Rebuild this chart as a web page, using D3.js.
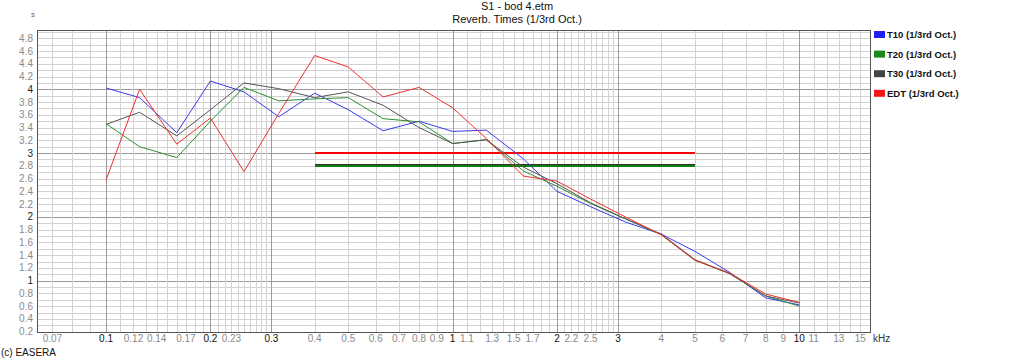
<!DOCTYPE html>
<html>
<head>
<meta charset="utf-8">
<script src="https://cdn.jsdelivr.net/npm/d3@7"></script>
<style>
  html, body { margin: 0; padding: 0; background: #fff; }
  svg { display: block; font-family: "Liberation Sans", Arial, sans-serif; }
</style>
</head>
<body>
<svg id="chart" width="1018" height="360"></svg>
<script>
// ---- data ----
const freqs = [0.1, 0.125, 0.16, 0.2, 0.25, 0.315, 0.4, 0.5, 0.63, 0.8, 1, 1.25, 1.6, 2, 2.5, 3.15, 4, 5, 6.3, 8, 10];
const t10 = [4.02, 3.87, 3.32, 4.13, 3.96, 3.57, 3.94, 3.68, 3.35, 3.50, 3.34, 3.36, 2.91, 2.40, 2.16, 1.92, 1.73, 1.46, 1.13, 0.73, 0.62];
const t20 = [3.46, 3.10, 2.93, 3.50, 4.03, 3.82, 3.85, 3.87, 3.54, 3.49, 3.15, 3.21, 2.72, 2.48, 2.21, 1.97, 1.72, 1.32, 1.11, 0.76, 0.60];
const t30 = [3.45, 3.64, 3.27, 3.68, 4.10, 4.01, 3.87, 3.96, 3.75, 3.40, 3.15, 3.21, 2.78, 2.52, 2.22, 1.97, 1.73, 1.33, 1.11, 0.76, 0.65];
const edt = [2.58, 4.00, 3.14, 3.55, 2.71, 3.62, 4.53, 4.35, 3.88, 4.03, 3.71, 3.23, 2.64, 2.56, 2.28, 2.00, 1.72, 1.32, 1.12, 0.79, 0.66];
const seriesNames = ["T10 (1/3rd Oct.)", "T20 (1/3rd Oct.)", "T30 (1/3rd Oct.)", "EDT (1/3rd Oct.)"];
// averages over 0.4 - 5 kHz (T10, T30, T20, EDT drawing order)
const avgRange = [0.4, 5];
const avgT10 = 2.80, avgT30 = 2.81, avgT20 = 2.795, avgEDT = 3.0;
const titleLines = ["S1 - bod 4.etm", "Reverb. Times (1/3rd Oct.)"];
const xTickLabels = ["0.07", "0.1", "0.12", "0.14", "0.17", "0.2", "0.23", "0.3", "0.4", "0.5", "0.6", "0.7", "0.8", "0.9", "1", "1.1", "1.3", "1.5", "1.7", "2", "2.2", "2.5", "3", "4", "5", "6", "7", "8", "9", "10", "11", "13", "15"];
const xMajorLabels = ["0.1", "0.2", "0.3", "1", "2", "3", "10"];
const yTickLabels = ["0.2","0.4","0.6","0.8","1","1.2","1.4","1.6","1.8","2","2.2","2.4","2.6","2.8","3","3.2","3.4","3.6","3.8","4","4.2","4.4","4.6","4.8"];

// ---- layout ----
const svg = d3.select("#chart");
const L = 36.5, R = 870, T = 30, B = 331.7;
const x = d3.scaleLog().domain([0.063, 16]).range([L, R]);
const y = d3.scaleLinear().domain([0.2, 4.93]).range([B, T]);

const colors = ["#1f1ff5", "#1a8a1a", "#444444", "#f01818"];
const lineColors = ["#3a3af0", "#2e8e2e", "#555555", "#ee3030"];

// grid: minor vertical
const vGrid = [];
[0.07, 0.08, 0.09].forEach(v => vGrid.push(v));
for (let i = 10; i <= 30; i++) vGrid.push(i / 100);
for (let i = 4; i <= 10; i++) vGrid.push(i / 10);
for (let i = 11; i <= 30; i++) vGrid.push(i / 10);
for (let i = 4; i <= 15; i++) vGrid.push(i);
const majorX = [0.1, 0.2, 0.3, 1, 2, 3, 10];
const isMajorX = v => majorX.some(m => Math.abs(m - v) < 1e-9);

const hGrid = [];
for (let i = 2; i <= 49; i++) hGrid.push(i / 10);
const isMajorY = v => Math.abs(v - Math.round(v)) < 1e-9;

const grid = svg.append("g").attr("shape-rendering", "crispEdges");
grid.selectAll("line.h").data(hGrid).join("line")
  .attr("x1", L).attr("x2", R)
  .attr("y1", d => Math.round(y(d)) + 0.5).attr("y2", d => Math.round(y(d)) + 0.5)
  .attr("stroke", d => isMajorY(d) ? "#9a9a9a" : "#d2d2d2").attr("stroke-width", 1);
grid.selectAll("line.v").data(vGrid).join("line")
  .attr("y1", T).attr("y2", B)
  .attr("x1", d => Math.round(x(d)) + 0.5).attr("x2", d => Math.round(x(d)) + 0.5)
  .attr("stroke", d => isMajorX(d) ? "#9a9a9a" : "#d2d2d2").attr("stroke-width", 1);

// frame
svg.append("rect").attr("x", Math.round(L) + 0.5).attr("y", T + 0.5)
  .attr("width", Math.round(R) - Math.round(L)).attr("height", Math.round(B) - T)
  .attr("fill", "none").attr("stroke", "#555").attr("shape-rendering", "crispEdges");

// y labels
svg.append("g").selectAll("text").data(yTickLabels).join("text")
  .attr("x", 33).attr("y", d => y(+d) + 3.5)
  .attr("text-anchor", "end").attr("font-size", 10)
  .attr("fill", d => isMajorY(+d) ? "#222" : "#8a8a8a")
  .text(d => d);
svg.append("text").attr("x", 33).attr("y", 17).attr("font-size", 8).attr("fill", "#666")
  .attr("text-anchor", "middle").text("s");

// x labels
svg.append("g").selectAll("text").data(xTickLabels).join("text")
  .attr("x", d => x(+d)).attr("y", 342)
  .attr("text-anchor", "middle").attr("font-size", 10)
  .attr("fill", d => xMajorLabels.includes(d) ? "#111" : "#8a8a8a")
  .text(d => d);
svg.append("text").attr("x", 873).attr("y", 342).attr("font-size", 10).attr("fill", "#333").text("kHz");

// titles
svg.append("g").selectAll("text").data(titleLines).join("text")
  .attr("x", 517).attr("y", (d, i) => 10 + i * 13)
  .attr("text-anchor", "middle").attr("font-size", 11).attr("fill", "#111")
  .text(d => d);

// copyright
svg.append("text").attr("x", 1).attr("y", 356).attr("font-size", 10).attr("fill", "#111").text("(c) EASERA");

// average lines
const avgG = svg.append("g").attr("shape-rendering", "crispEdges");
[[avgT10, "#0000ff"], [avgT30, "#333333"], [avgT20, "#0a800a"], [avgEDT, "#ff0000"]].forEach(([v, c]) => {
  avgG.append("line")
    .attr("x1", x(avgRange[0])).attr("x2", x(avgRange[1]))
    .attr("y1", y(v)).attr("y2", y(v))
    .attr("stroke", c).attr("stroke-width", 2);
});

// series
const allSeries = [t10, t20, t30, edt];
const line = d3.line().x(d => x(d[0])).y(d => y(d[1]));
allSeries.forEach((vals, i) => {
  svg.append("path")
    .datum(freqs.map((f, j) => [f, vals[j]]))
    .attr("d", line).attr("fill", "none")
    .attr("stroke", lineColors[i]).attr("stroke-width", 1);
});

// legend
const leg = svg.append("g");
seriesNames.forEach((n, i) => {
  const yy = 34.5 + i * 19.6;
  leg.append("rect").attr("x", 874).attr("y", yy - 3.5).attr("width", 11).attr("height", 7).attr("fill", colors[i]);
  leg.append("text").attr("x", 887).attr("y", yy + 3.5).attr("font-size", 9.5).attr("font-weight", "bold")
    .attr("fill", "#111").text(n);
});
</script>
</body>
</html>
